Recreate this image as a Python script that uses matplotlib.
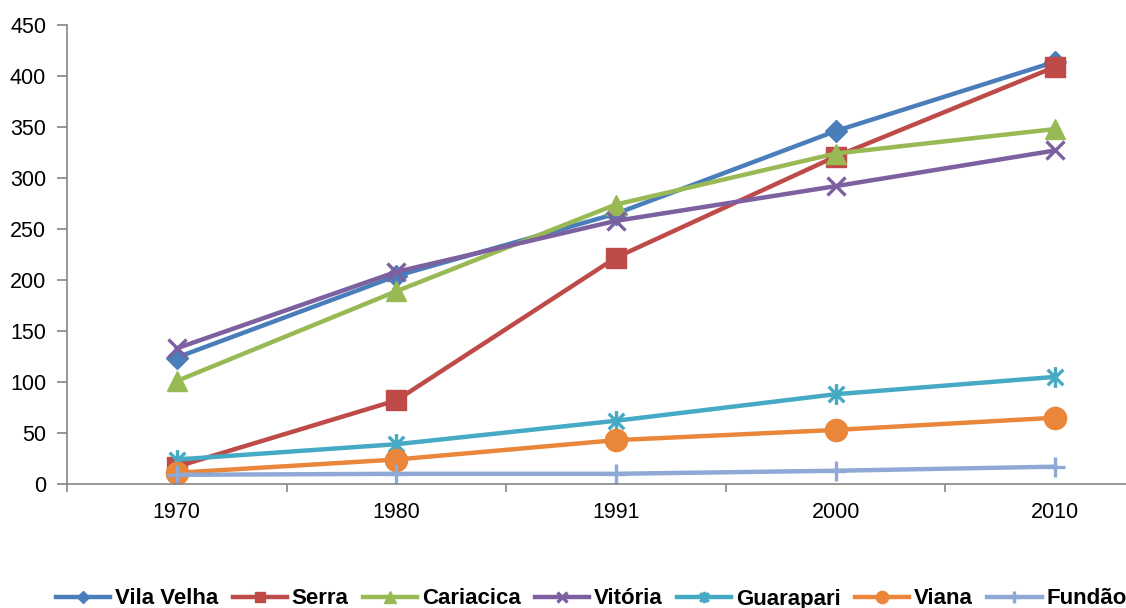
import matplotlib
matplotlib.use("Agg")
import matplotlib.pyplot as plt
from matplotlib.path import Path
import numpy as np

years = ["1970", "1980", "1991", "2000", "2010"]
vila_velha = [124, 204, 265, 346, 414]
serra = [17, 82, 222, 321, 409]
cariacica = [101, 189, 274, 324, 348]
vitoria = [133, 208, 258, 292, 327]
guarapari = [24, 39, 62, 88, 105]
viana = [11, 24, 43, 53, 65]
fundao = [9, 10, 10, 13, 17]

names = ["Vila Velha", "Serra", "Cariacica", "Vitória", "Guarapari", "Viana", "Fundão"]
series = [vila_velha, serra, cariacica, vitoria, guarapari, viana, fundao]
colors = ["#4A7EBB", "#BE4B48", "#98B954", "#7D60A0", "#46AAC5", "#E98639", "#8EA9D6"]

star = Path([(0, -1), (0, 1), (-0.75, -0.75), (0.75, 0.75), (-0.75, 0.75), (0.75, -0.75)],
            [Path.MOVETO, Path.LINETO, Path.MOVETO, Path.LINETO, Path.MOVETO, Path.LINETO])
markers = ["D", "s", "^", "x", star, "o", "+"]
msizes = [11.5, 14, 15, 13, 15, 16, 15]

plt.rcParams['font.family'] = ['Liberation Sans', 'DejaVu Sans']
fig = plt.figure(figsize=(11.26, 6.08), dpi=100)
ax = fig.add_axes([67/1126, 124/608, 1098/1126, 459/608])

x = np.arange(len(years))
for name, vals, c, m, ms in zip(names, series, colors, markers, msizes):
    thin = (m is star) or m in ("x", "+")
    ax.plot(x, vals, color=c, lw=3.2, marker=m, markersize=ms,
            markeredgewidth=2.4 if thin else 1,
            markerfacecolor=c, markeredgecolor=c, label=name)

ax.set_xlim(-0.5, len(years) - 0.5)
ax.set_ylim(0, 450)
ax.set_yticks(np.arange(0, 451, 50))
ax.set_xticks(x)
ax.set_xticklabels(years)
ax.set_xticks(np.arange(-0.5, len(years), 1), minor=True)
ax.tick_params(axis='x', which='major', length=0, pad=13, labelsize=15.5)
ax.tick_params(axis='x', which='minor', length=6, color="#868686", width=1.2)
ax.tick_params(axis='y', length=7, color="#868686", width=1.2, labelsize=15.5, pad=8)
for s in ("top", "right"):
    ax.spines[s].set_visible(False)
for s in ("left", "bottom"):
    ax.spines[s].set_color("#868686")
    ax.spines[s].set_linewidth(1.2)

leg = fig.legend(loc='center left', bbox_to_anchor=(56/1126, 1 - 599/608), ncol=7,
                 frameon=False, borderpad=0, borderaxespad=0,
                 handlelength=2.45, handletextpad=0.2, columnspacing=0.65,
                 markerscale=0.55,
                 prop={'family': ['Liberation Sans Narrow', 'Liberation Sans'], 'weight': 'bold', 'size': 16})

fig.savefig("out.png", dpi=100)
